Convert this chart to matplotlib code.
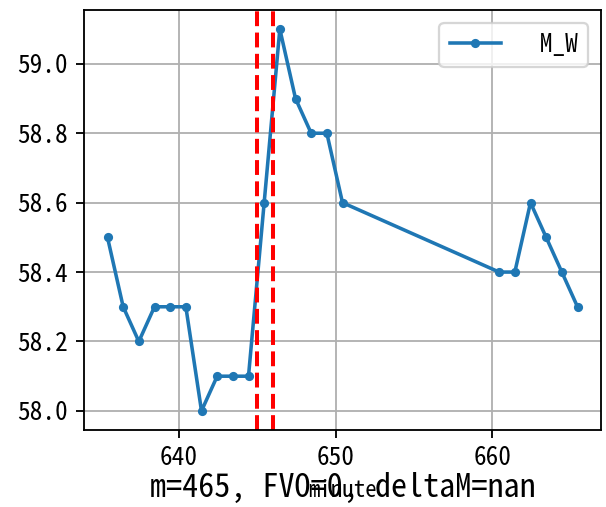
import matplotlib
matplotlib.use("Agg")
import matplotlib.pyplot as plt

minutes = [635.43, 636.43, 637.43, 638.43, 639.43, 640.43, 641.43, 642.43,
           643.43, 644.43, 645.43, 646.43, 647.43, 648.43, 649.43, 650.43,
           660.43, 661.43, 662.43, 663.43, 664.43, 665.43]
m_w = [58.5, 58.3, 58.2, 58.3, 58.3, 58.3, 58.0, 58.1, 58.1, 58.1, 58.6,
       59.1, 58.9, 58.8, 58.8, 58.6, 58.4, 58.4, 58.6, 58.5, 58.4, 58.3]
vlines = [645, 646]
series_label = " M_W"
caption = "m=465, FVO=0, deltaM=nan"
xlabel = "minute"
yticks = [58.0, 58.2, 58.4, 58.6, 58.8, 59.0]
xticks = [640, 650, 660]

fam = ['Noto Sans Mono CJK SC', 'Liberation Mono', 'DejaVu Sans Mono']
plt.rcParams['font.family'] = fam

DPI = 165
fig = plt.figure(figsize=(606/DPI, 507/DPI), dpi=DPI)
ax = fig.add_axes([84/606, 1-430/507, (601-84)/606, (430-10)/507])

ax.plot(minutes, m_w, marker='.', color='#1f77b4', lw=1.55, label=series_label)
for v in vlines:
    ax.axvline(v, color='red', linestyle='--', lw=1.75)
ax.grid(True)
ax.set_xticks(xticks)
ax.set_yticks(yticks)
ax.set_yticklabels([f"{t:.1f}" for t in yticks])
ax.tick_params(labelsize=11.1)
ax.set_xlabel(xlabel, fontsize=10)
ax.legend(loc='upper right', fontsize=11.1, handletextpad=1.05)
fig.text((84+601)/2/606, 10/507, caption, ha='center', va='baseline', fontsize=14)

fig.savefig("out.png", dpi=DPI)
